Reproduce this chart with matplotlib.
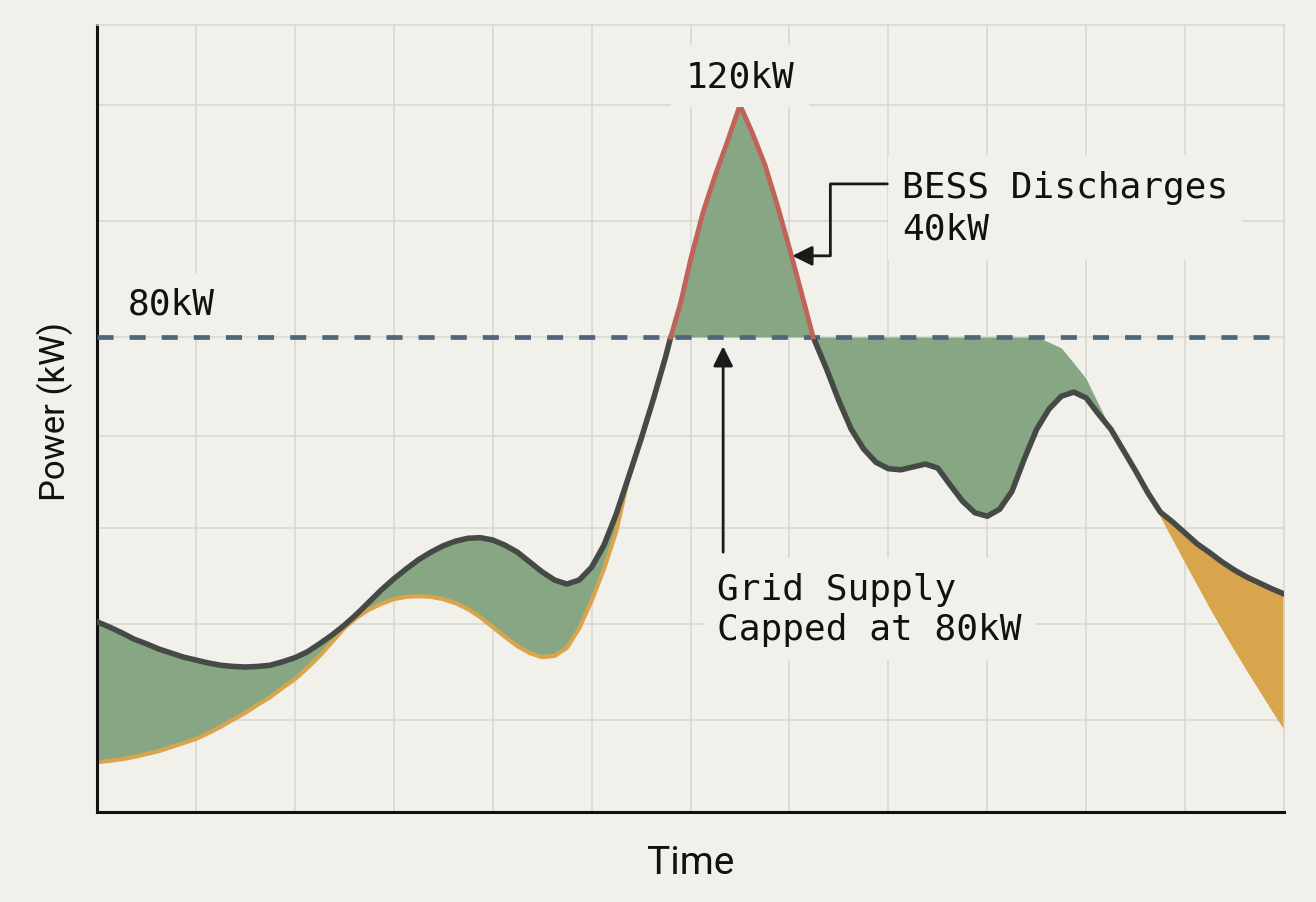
import matplotlib
matplotlib.use('Agg')
import matplotlib.pyplot as plt

# dados (tempo em unidades de grade, potencia em kW)
time = [0.0, 0.125, 0.25, 0.375, 0.5, 0.625, 0.75, 0.875, 1.0, 1.125, 1.25, 1.375,
        1.5, 1.625, 1.75, 1.875, 2.0, 2.125, 2.25, 2.375, 2.5, 2.625, 2.75, 2.875,
        3.0, 3.125, 3.25, 3.375, 3.5, 3.625, 3.75, 3.875, 4.0, 4.125, 4.25, 4.375,
        4.5, 4.625, 4.75, 4.875, 5.0, 5.125, 5.25, 5.375, 5.5, 5.625, 5.75,
        5.8, 5.9, 6.0, 6.125, 6.25, 6.375, 6.5, 6.625, 6.75, 6.875, 7.0, 7.125, 7.24,
        7.375, 7.5, 7.625, 7.75, 7.875, 8.0, 8.125, 8.25, 8.375, 8.5, 8.625, 8.75,
        8.875, 9.0, 9.125, 9.25, 9.375, 9.5, 9.625, 9.75, 9.875, 10.0, 10.125, 10.25,
        10.375, 10.5, 10.625, 10.75, 10.875, 11.0, 11.125, 11.25, 11.375, 11.5,
        11.625, 11.75, 11.875, 12.0]

demand = [30.9, 30.0, 29.0, 27.9, 27.1, 26.2, 25.5, 24.8, 24.3, 23.8, 23.4, 23.2,
          23.1, 23.2, 23.4, 24.0, 24.7, 25.7, 27.1, 28.6, 30.3, 32.2, 34.3, 36.4,
          38.3, 40.0, 41.6, 42.9, 44.0, 44.8, 45.3, 45.4, 45.0, 44.1, 42.9, 41.2,
          39.5, 38.1, 37.4, 38.1, 40.3, 44.1, 49.5, 55.9, 62.4, 69.3, 76.7,
          80.0, 85.9, 93.3, 101.4, 107.9, 113.8, 120.0, 115.2, 109.8, 102.9, 95.3, 87.4, 80.0,
          74.5, 69.0, 64.1, 60.7, 58.4, 57.3, 57.1, 57.6, 58.1, 57.4, 54.5, 51.7,
          49.7, 49.1, 50.3, 53.4, 59.0, 64.1, 67.6, 69.8, 70.5, 69.5, 66.7, 64.1,
          60.5, 56.9, 53.1, 49.8, 48.1, 46.2, 44.3, 42.8, 41.2, 39.8,
          38.6, 37.6, 36.6, 35.7]

# curva laranja da esquerda (t = 0 .. 5.375)
supply_low = [6.7, 6.9, 7.2, 7.6, 8.1, 8.6, 9.3, 10.0, 10.7, 11.7, 12.8, 14.0,
              15.2, 16.6, 17.9, 19.5, 21.0, 22.9, 25.0, 27.4, 29.8, 31.6, 33.0, 34.0,
              34.8, 35.2, 35.3, 35.2, 34.8, 34.1, 33.1, 31.7, 30.0, 28.3, 26.7, 25.5,
              24.8, 25.0, 26.4, 29.8, 34.5, 40.0, 46.5, 55.9]

# limite superior da area verde da direita (t = 7.24 .. 10.25)
charge_top = [80, 80, 80, 80, 80, 80, 80, 80, 80, 80, 80, 80, 80, 80, 80, 80, 80, 80, 80,
              79.1, 78.1, 75.5, 72.8, 68.4, 64.1]

# borda inferior da area laranja (t = 10.625 .. 12)
tail_low = [53.1, 49.0, 45.0, 41.0, 37.1, 33.2, 29.5, 25.9, 22.4, 19.0, 15.6, 12.3]

cap = 80
peak = 120
bess = 40

# cores
fundo = '#f1f0eb'
verde = '#87a784'
laranja = '#d9a54c'
escuro = '#464a47'
vermelho = '#c0645a'
azul = '#4f6579'
grade = '#d6d6d1'

mono = 'DejaVu Sans Mono'

fig = plt.figure(figsize=(13.16, 9.03), dpi=100)
fig.patch.set_facecolor(fundo)
ax = fig.add_axes([97 / 1316, 1 - 813 / 903, (1284 - 97) / 1316, (813 - 26) / 903])
ax.set_facecolor(fundo)

ax.set_xlim(0, 12)
ax.set_ylim(-1.9, 133.8)
ax.set_xticks(range(1, 12))
ax.set_yticks([14, 30.5, 47, 63, 80, 100, 120])
ax.tick_params(length=0, labelbottom=False, labelleft=False)
ax.grid(True, color=grade, linewidth=1.1)
ax.set_axisbelow(True)

for lado in ['top', 'right']:
    ax.spines[lado].set_color(grade)
    ax.spines[lado].set_linewidth(1.1)
for lado in ['left', 'bottom']:
    ax.spines[lado].set_color('#111111')
    ax.spines[lado].set_linewidth(2.2)

# trechos
i_low = slice(0, 44)       # 0 .. 5.375
i_peak = slice(47, 60)     # 5.8 .. 7.24
i_charge = slice(59, 84)   # 7.24 .. 10.25
i_tail = slice(86, 98)     # 10.625 .. 12

ax.fill_between(time[i_low], demand[i_low], supply_low, color=verde, linewidth=0, zorder=1)
ax.fill_between(time[i_peak], demand[i_peak], cap, color=verde, linewidth=0, zorder=1)
ax.fill_between(time[i_charge], charge_top, demand[i_charge], color=verde, linewidth=0, zorder=1)
ax.fill_between(time[i_tail], demand[i_tail], tail_low, color=laranja, linewidth=0, zorder=1)

ax.plot(time[i_low], supply_low, color=laranja, linewidth=3.0, solid_capstyle='round',
        solid_joinstyle='round', zorder=2)

ax.axhline(cap, color=azul, linewidth=3.4, linestyle=(0, (3.4, 3.4)), zorder=3)

ax.plot(time[:48], demand[:48], color=escuro, linewidth=4.0, solid_capstyle='round',
        solid_joinstyle='round', zorder=4)
ax.plot(time[59:], demand[59:], color=escuro, linewidth=4.0, solid_capstyle='round',
        solid_joinstyle='round', zorder=4)
ax.plot(time[i_peak], demand[i_peak], color=vermelho, linewidth=3.5, solid_joinstyle='miter', zorder=5)

caixa = dict(facecolor=fundo, edgecolor='none', boxstyle='square,pad=0.4')

ax.text(0.31, 85.7, f'{cap}kW', family=mono, fontsize=26, color='#111111',
        ha='left', va='center', bbox=caixa, zorder=6)
ax.text(6.5, 125.0, f'{peak}kW', family=mono, fontsize=26, color='#111111',
        ha='center', va='center', bbox=caixa, zorder=6)
ax.text(8.14, 102.3, f'BESS Discharges\n{bess}kW', family=mono, fontsize=26,
        color='#111111', ha='left', va='center', linespacing=1.3, bbox=caixa, zorder=6)
ax.text(6.27, 33.1, f'Grid Supply\nCapped at {cap}kW', family=mono, fontsize=26,
        color='#111111', ha='left', va='center', linespacing=1.2, bbox=caixa, zorder=6)

# setas
ax.annotate('', xy=(7.03, 94.0), xytext=(7.99, 106.4),
            arrowprops=dict(arrowstyle='-|>,head_length=0.6,head_width=0.3',
                            connectionstyle='arc,angleA=180,armA=57,angleB=0,armB=38,rad=0',
                            shrinkA=0, shrinkB=0, lw=2, color='#1a1a1a', mutation_scale=20),
            zorder=7)
ax.annotate('', xy=(6.33, 78.4), xytext=(6.33, 42.9),
            arrowprops=dict(arrowstyle='-|>,head_length=0.6,head_width=0.3',
                            shrinkA=0, shrinkB=0, lw=2, color='#1a1a1a', mutation_scale=20),
            zorder=7)

ax.set_xlabel('Time', family='Roboto', fontsize=28, color='#111111', labelpad=23)
ax.set_ylabel('Power (kW)', family='Roboto', fontsize=25, color='#111111', labelpad=17)
ax.yaxis.label.set_y(0.51)

plt.savefig('out.png', dpi=100, facecolor=fundo)
